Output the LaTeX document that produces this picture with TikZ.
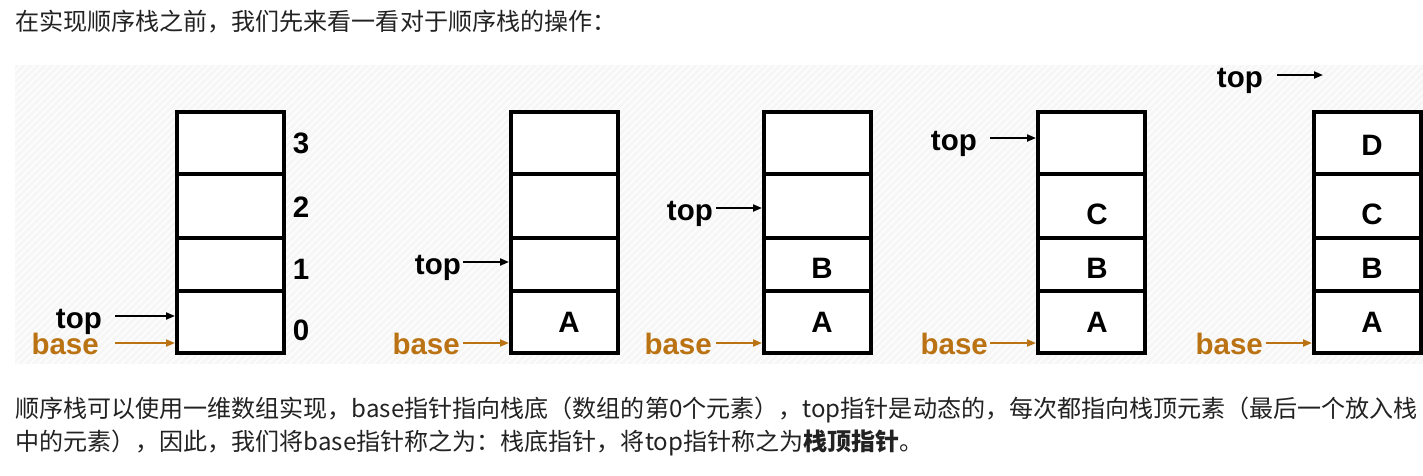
\documentclass[tikz,border=0pt]{standalone}
\usepackage{fontspec}
\setmainfont{Liberation Sans}
\newfontfamily\cjk{Noto Sans CJK SC}
\usetikzlibrary{arrows.meta}
\definecolor{basecol}{RGB}{186,114,18}
\definecolor{txt}{RGB}{34,34,34}
\definecolor{bgc}{RGB}{246,246,246}
\tikzset{
  cell/.style={draw=black, fill=white, line width=4pt, minimum width=107pt, inner sep=0pt, anchor=north west},
  lab/.style={font=\fontsize{29.5}{31}\selectfont\bfseries, inner sep=0pt},
  ptr/.style={line width=2pt, -{Triangle[length=9pt,width=7pt]}},
  para/.style={font=\cjk\fontsize{24.05}{26}\selectfont, text=txt, anchor=west, inner sep=0pt}
}
\begin{document}
\begin{tikzpicture}[x=1pt,y=-1pt]
\useasboundingbox (0,0) rectangle (1423,475);
\fill[white] (0,0) rectangle (1423,475);
\fill[bgc] (15,65) rectangle (1423,364);
\begin{scope}
\clip (15,65) rectangle (1423,364);
\foreach \k in {0,7,...,1750}{
  \draw[white!80!bgc, line width=1.5pt] (\k,65) -- ++(-300,300);
}
\end{scope}

\node[para] (l1) at (15,22) {在实现顺序栈之前，我们先来看一看对于顺序栈的操作：};
\node[para] (l2) at (15,410) {顺序栈可以使用一维数组实现，base指针指向栈底（数组的第0个元素），top指针是动态的，每次都指向栈顶元素（最后一个放入栈};
\node[para] (l3) at (15,443) {中的元素），因此，我们将base指针称之为：栈底指针，将top指针称之为{\bfseries 栈顶指针}。};

% stacks
\foreach \s/\x in {1/175,2/509,3/762,4/1036,5/1312}{
  \node[cell, minimum height=62pt] (s\s c3) at (\x,110) {};
  \node[cell, minimum height=64pt] (s\s c2) at (\x,172) {};
  \node[cell, minimum height=53pt] (s\s c1) at (\x,236) {};
  \node[cell, minimum height=62pt] (s\s c0) at (\x,289) {};
}

% indices
\node[lab] (i3) at (301,143) {3};
\node[lab] (i2) at (301,207) {2};
\node[lab] (i1) at (301,269) {1};
\node[lab] (i0) at (301,330) {0};

% contents
\node[lab] (a2) at (569,322) {A};
\node[lab] (a3) at (822,322) {A};
\node[lab] (b3) at (822,268) {B};
\node[lab] (a4) at (1097,322) {A};
\node[lab] (b4) at (1097,268) {B};
\node[lab] (c4) at (1097,214) {C};
\node[lab] (a5) at (1372,322) {A};
\node[lab] (b5) at (1372,268) {B};
\node[lab] (c5) at (1372,214) {C};
\node[lab] (d5) at (1372,145) {D};

% top pointers
\node[lab, anchor=base east] (t1) at (102,328) {top};
\node[lab, anchor=base east] (t2) at (461,274) {top};
\node[lab, anchor=base east] (t3) at (713,220) {top};
\node[lab, anchor=base east] (t4) at (977,150) {top};
\node[lab, anchor=base east] (t5) at (1263,87) {top};
% base pointers
\node[lab, text=basecol, anchor=base east] (b1) at (99,354) {base};
\node[lab, text=basecol, anchor=base east] (bb2) at (460,354) {base};
\node[lab, text=basecol, anchor=base east] (bb3) at (712,354) {base};
\node[lab, text=basecol, anchor=base east] (bb4) at (988,354) {base};
\node[lab, text=basecol, anchor=base east] (bb5) at (1263,354) {base};

\coordinate (t5end) at (1323,75);
\draw[ptr] (115,316) -- (s1c0.west |- 0,316);
\draw[ptr] (463,262) -- (s2c1.west |- 0,262);
\draw[ptr] (716,208) -- (s3c2.west |- 0,208);
\draw[ptr] (990,138) -- (s4c3.west |- 0,138);
\draw[ptr] (1277,75) -- (t5end);

\draw[ptr, basecol] (115,343) -- (s1c0.west |- 0,343);
\draw[ptr, basecol] (463,343) -- (s2c0.west |- 0,343);
\draw[ptr, basecol] (716,343) -- (s3c0.west |- 0,343);
\draw[ptr, basecol] (990,343) -- (s4c0.west |- 0,343);
\draw[ptr, basecol] (1266,343) -- (s5c0.west |- 0,343);
\end{tikzpicture}
\end{document}
